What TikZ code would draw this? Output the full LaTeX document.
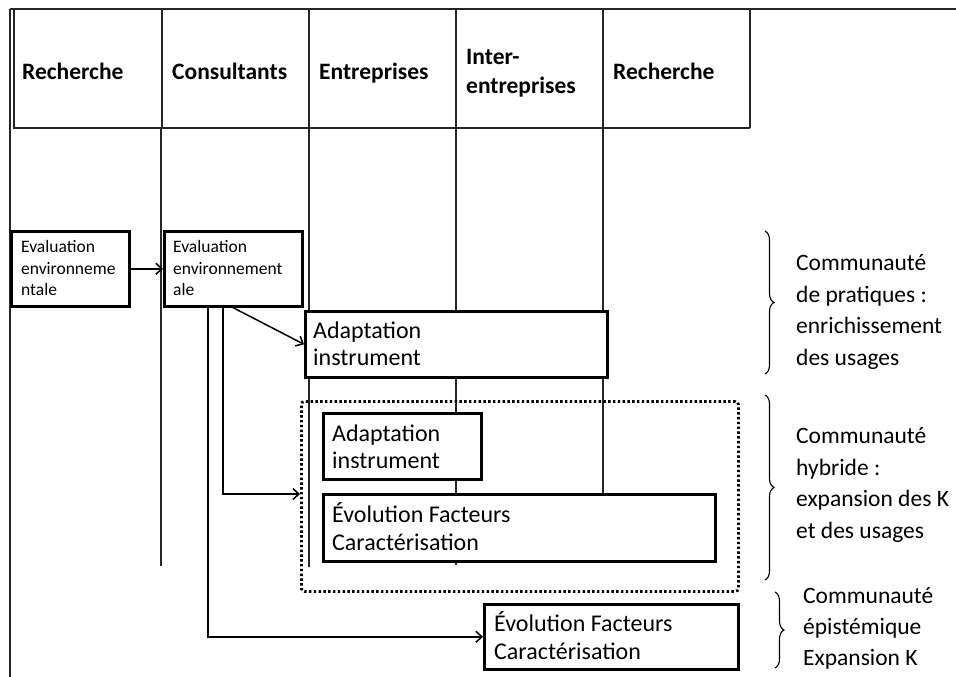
\documentclass[tikz,border=0pt]{standalone}
\usepackage{fontspec}
\setmainfont{Carlito}
\usetikzlibrary{arrows.meta,decorations.pathreplacing}
\begin{document}
\begin{tikzpicture}[x=1pt,y=-1pt,
  grid/.style={line width=1.3pt, draw=black!85},
  box/.style={draw, line width=2.6pt, fill=white, anchor=north west, inner sep=0pt},
  txt/.style={anchor=base west, inner sep=0pt, font=\fontsize{24}{29}\selectfont},
  side/.style={anchor=base west, inner sep=0pt, font=\fontsize{23.5}{29}\selectfont},
  small/.style={anchor=base west, inner sep=0pt, font=\fontsize{17.5}{22}\selectfont},
  head/.style={anchor=base west, inner sep=0pt, font=\fontsize{23.5}{28}\selectfont\bfseries},
  conn/.style={line width=1.5pt, -{Straight Barb[length=6pt,width=11pt]}},
  brc/.style={line width=1.1pt, decorate, decoration={brace, amplitude=9pt}},
  dotbox/.style={draw, line width=2.8pt, dash pattern=on 2.4pt off 2.4pt, rounded corners=3pt, anchor=north west, inner sep=0pt}
]
\useasboundingbox (0,0) rectangle (956,677);
% frame and header table
\draw[grid] (10,9) -- (956,9);
\draw[grid] (10,9) -- (10,677);
\draw[grid] (14,9) -- (14,128) -- (750,128);
\foreach \x in {162,309,456,603,750} \draw[grid] (\x,9) -- (\x,128);
\draw[grid] (161,128) -- (161,566);
\draw[grid] (309,128) -- (309,567);
\draw[grid] (456,128) -- (456,565);
\draw[grid] (603,128) -- (603,563);
% header texts
\node[head] (h1) at (22,79) {Recherche};
\node[head] (h2) at (172,79) {Consultants};
\node[head] (h3) at (319,79) {Entreprises};
\node[head] (h4a) at (466,65) {Inter-};
\node[head] (h4b) at (466,93) {entreprises};
\node[head] (h5) at (613,79) {Recherche};
% dotted box
\node[dotbox, minimum width=437pt, minimum height=190pt] (dots) at (300,400) {};
% boxes
\node[box, minimum width=118pt, minimum height=75pt] (ev1) at (10,230) {};
\node[box, minimum width=138pt, minimum height=75pt] (ev2) at (163,230) {};
\node[box, minimum width=302pt, minimum height=66pt] (ad1) at (304,310) {};
\node[box, minimum width=158pt, minimum height=66pt] (ad2) at (322,412) {};
\node[box, minimum width=392pt, minimum height=67pt] (evo1) at (322,493) {};
\node[box, minimum width=254pt, minimum height=65pt] (evo2) at (483,603) {};
% box texts
\node[small] (ev1a) at (21,252) {Evaluation};
\node[small] (ev1b) at (21,274) {environneme};
\node[small] (ev1c) at (21,295) {ntale};
\node[small] (ev2a) at (173,252) {Evaluation};
\node[small] (ev2b) at (173,274) {environnement};
\node[small] (ev2c) at (173,295) {ale};
\node[txt] (ad1a) at (313,338) {Adaptation};
\node[txt] (ad1b) at (313,365) {instrument};
\node[txt] (ad2a) at (332,441) {Adaptation};
\node[txt] (ad2b) at (332,468) {instrument};
\node[txt] (evo1a) at (332,522) {Évolution Facteurs};
\node[txt] (evo1b) at (332,550) {Caractérisation};
\node[txt] (evo2a) at (494,631) {Évolution Facteurs};
\node[txt] (evo2b) at (494,659) {Caractérisation};
% connectors
\coordinate (s1) at ([xshift=70pt]ev2.south west);
\coordinate (s2) at ([xshift=60pt]ev2.south west);
\coordinate (s3) at ([xshift=45pt]ev2.south west);
\draw[conn] (ev1.east) -- (ev2.west);
\draw[conn] (s1) -- (ad1.west);
\draw[conn] (s2) |- (dots.west |- 0,494);
\draw[conn] (s3) |- (evo2.west);
% braces
\draw[brc] (765,231) -- (765,374);
\draw[brc] (765,395) -- (765,580);
\draw[brc] (775,592) -- (775,668);
\node[side] (b1a) at (796,270) {Communauté};
\node[side] (b1b) at (796,302) {de pratiques :};
\node[side] (b1c) at (796,333) {enrichissement};
\node[side] (b1d) at (796,365) {des usages};
\node[side] (b2a) at (796,443) {Communauté};
\node[side] (b2b) at (796,475) {hybride :};
\node[side] (b2c) at (796,506) {expansion des K};
\node[side] (b2d) at (796,538) {et des usages};
\node[side] (b3a) at (803,603) {Communauté};
\node[side] (b3b) at (803,634) {épistémique};
\node[side] (b3c) at (803,665) {Expansion K};
\end{tikzpicture}
\end{document}
